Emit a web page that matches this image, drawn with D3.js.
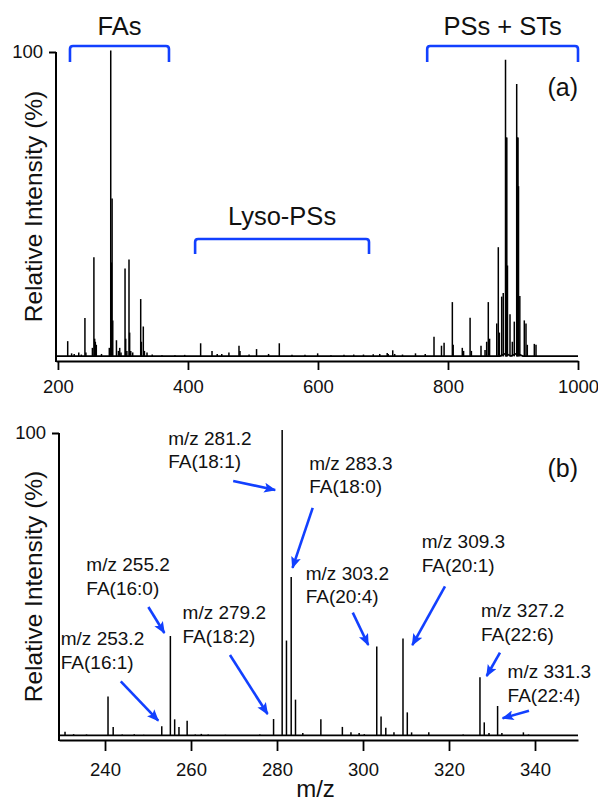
<!DOCTYPE html>
<html>
<head>
<meta charset="utf-8">
<script src="https://cdn.jsdelivr.net/npm/d3@7/dist/d3.min.js"></script>
<style>
  html, body { margin: 0; padding: 0; background: #fff; }
  svg { display: block; }
  text { font-family: "Liberation Sans", Arial, sans-serif; fill: #111; }
</style>
</head>
<body>
<script>
// ---------------- DATA ----------------
// Panel (a): full-range spectrum, [m/z, relative intensity %]
const peaksA = [
  [215, 5.2], [221, 1.2], [225, 1.0], [232, 1.5], [236, 0.8], [241.5, 12.8], [243, 1.5],
  [253, 3], [255.3, 32.7], [256.5, 6], [257.5, 5], [259, 4], [267, 1], [279, 3],
  [281.2, 100.5], [282.2, 31], [283.3, 52], [284.3, 12], [290, 5.5], [293, 2], [295, 3], [297, 1.5],
  [303.2, 29], [304.2, 6], [306, 2], [309.3, 32], [310.3, 8], [312, 2], [315, 1.5],
  [327.3, 19], [328.3, 5], [331.3, 10], [333, 2], [337, 1.5], [345, 0.8], [360, 0.6], [380, 0.6],
  [395, 0.7], [419.5, 4.5], [437, 2], [445, 1], [452, 1], [463, 1.5], [478.5, 3.7], [480, 2],
  [494, 0.8], [505.5, 2.6], [524, 1], [540.5, 4.5], [560, 0.7], [580, 0.7], [599.5, 1.2],
  [620, 0.6], [640, 0.7], [655, 0.8], [670, 0.8], [685, 0.9], [695, 1], [706.5, 1.3], [708, 1],
  [715, 2.2], [718, 1], [730, 0.8], [750, 1.2], [765, 1], [778.5, 6.6], [790, 3.7], [794, 4.7],
  [806.7, 18], [808, 4], [822, 3], [824, 2], [834, 12.9], [836, 2], [850.8, 3.7], [857, 2.3],
  [859.5, 5], [862, 18], [864, 6], [875, 11], [877.4, 36], [879, 8], [882.6, 19.8], [885, 21],
  [888.5, 97.5], [889.5, 72], [890.5, 72], [891.5, 30], [895.4, 14], [899, 5], [902, 11.6],
  [905.7, 89.5], [906.7, 72], [907.7, 72], [908.5, 56], [910.5, 20], [917.4, 12], [920, 11],
  [922, 4], [932.8, 4.3], [935.4, 4]
];
// baseline profile of panel (a) (small humps under the main cluster)
const baselineA = [[197, 0.3], [880, 0.3], [889, 1.2], [897, 0.3], [906, 1.2], [915, 0.3], [1000, 0.3]];

// Panel (b): zoom 230-350
const peaksB = [
  [230.7, 1.4], [232.7, 0.6], [235.7, 0.5], [240.7, 13], [241.9, 3], [244, 0.5], [246.8, 0.6],
  [249, 0.4], [253.2, 3.2], [255.2, 33], [256.2, 5.5], [257.2, 3], [259.1, 5], [261, 0.5],
  [262.4, 0.7], [264, 0.5], [268, 0.4], [276, 0.5], [279.2, 5.6], [281.2, 101], [282.2, 31.5],
  [283.3, 52.5], [284.3, 12], [286, 1], [290.2, 5.5], [295.2, 3], [297.2, 1.2], [299.1, 1],
  [300.3, 0.6], [303.2, 29.5], [304.2, 6.4], [305.3, 2.7], [307.2, 1.2], [309.3, 32.2],
  [310.3, 7.8], [311.3, 1.2], [315.3, 1.2], [323.3, 0.5], [327.2, 19.4], [328.2, 4.5],
  [329.3, 1], [331.3, 9.9], [332.3, 1], [337.3, 1.2], [338.5, 0.5]
];
const baselineB = [[229.3, 0.2], [350, 0.2]];

const ticksA = [200, 400, 600, 800, 1000];
const ticksB = [240, 260, 280, 300, 320, 340];
const yTicks = [100];

// group annotations of panel (a): [label, mz start, mz end]
const groupsA = [["FAs", 218.5, 370.8], ["PSs + STs", 768, 1000], ["Lyso-PSs", 411, 678.5]];

// peak annotations of panel (b): [mz, intensity, line1, line2]
const annB = [
  [281.2, 101, "m/z 281.2", "FA(18:1)"],
  [283.3, 52.5, "m/z 283.3", "FA(18:0)"],
  [255.2, 33, "m/z 255.2", "FA(16:0)"],
  [253.2, 3.2, "m/z 253.2", "FA(16:1)"],
  [279.2, 5.6, "m/z 279.2", "FA(18:2)"],
  [303.2, 29.5, "m/z 303.2", "FA(20:4)"],
  [309.3, 32.2, "m/z 309.3", "FA(20:1)"],
  [327.2, 19.4, "m/z 327.2", "FA(22:6)"],
  [331.3, 9.9, "m/z 331.3", "FA(22:4)"]
];

// ---------------- LAYOUT ----------------
const W = 598, H = 801;
const BLUE = "#1240ff";
const annLayout = [
  // [arrow start dx, dy, arrow end dx, dy, text dx, dy]
  [-49, 51, -7, 60, -114, 15],
  [21.5, -69, 1.3, -9, 18, -107],
  [-22, -29, -6, -3, -84, -65],
  [-41, -45, -3.5, -5.6, -101, -81],
  [-43.6, -64, -6, -5, -91, -100],
  [-24, -34, -8.5, -1.6, -71, -67],
  [42, -52, 9.3, 6.6, 18.7, -90],
  [20, -24.5, 6.7, -1.2, 1, -60],
  [31.4, 4.7, 5, 12.3, 10, -27.7]
];

const svg = d3.select("body").append("svg").attr("width", W).attr("height", H);

const defs = svg.append("defs");
defs.append("marker")
  .attr("id", "ah").attr("markerUnits", "userSpaceOnUse")
  .attr("viewBox", "0 0 12 10").attr("refX", 11).attr("refY", 5)
  .attr("markerWidth", 13).attr("markerHeight", 10).attr("orient", "auto")
  .append("path").attr("d", "M0,0 L12,5 L0,10 L2.5,5 Z").attr("fill", BLUE);

function panel(cfg) {
  const x = d3.scaleLinear().domain(cfg.xDomain).range([cfg.left, cfg.right]);
  const y = d3.scaleLinear().domain([0, 100]).range([cfg.base, cfg.top100]);
  const g = svg.append("g");

  // baseline trace
  g.append("path")
    .datum(cfg.baseline)
    .attr("d", d3.line().x(d => x(d[0])).y(d => y(d[1])))
    .attr("fill", "none").attr("stroke", "#000").attr("stroke-width", 1.6);

  // peaks (sticks)
  g.append("g").selectAll("line").data(cfg.peaks).join("line")
    .attr("x1", d => x(d[0])).attr("x2", d => x(d[0]))
    .attr("y1", y(0.2)).attr("y2", d => y(d[1]))
    .attr("stroke", "#000").attr("stroke-width", cfg.sw);

  // x axis
  const ax = g.append("g").attr("transform", `translate(0,${cfg.axisY})`)
    .call(d3.axisBottom(x).tickValues(cfg.ticks).tickSize(cfg.tickLen).tickSizeOuter(0)
      .tickPadding(cfg.tickPad).tickFormat(d3.format("d")));
  ax.select(".domain").attr("stroke", "#000").attr("stroke-width", 2);
  ax.selectAll(".tick line").attr("stroke", "#000").attr("stroke-width", 1.8);
  ax.selectAll(".tick text").style("font-size", "18.5px").attr("fill", "#111")
    .style("font-family", "Liberation Sans, Arial, sans-serif");

  // y axis
  const ay = g.append("g").attr("transform", `translate(${cfg.left},0)`)
    .call(d3.axisLeft(y).tickValues(yTicks).tickSize(7).tickPadding(6).tickSizeOuter(0));
  ay.select(".domain").remove();
  g.append("line").attr("x1", cfg.left).attr("x2", cfg.left)
    .attr("y1", y(100)).attr("y2", cfg.axisY + 1)
    .attr("stroke", "#000").attr("stroke-width", 2);
  ay.selectAll(".tick line").attr("stroke", "#000").attr("stroke-width", 2);
  ay.selectAll(".tick text").style("font-size", "18.5px").attr("fill", "#111")
    .style("font-family", "Liberation Sans, Arial, sans-serif");

  // y title
  g.append("text")
    .attr("transform", `translate(${cfg.titleX},${(cfg.axisY + y(100)) / 2 + cfg.titleShift}) rotate(-90)`)
    .attr("text-anchor", "middle").style("font-size", "24.5px")
    .text("Relative Intensity (%)");

  // panel label
  g.append("text").attr("x", cfg.right).attr("y", cfg.labelY)
    .attr("text-anchor", "end").style("font-size", "25px").text(cfg.label);

  return { x, y, g };
}

// ---- Panel (a)
const A = panel({
  xDomain: [197, 1000], left: 56, right: 578, base: 357, top100: 52, axisY: 361,
  baseline: baselineA, peaks: peaksA, sw: 1.5, ticks: ticksA, tickLen: 9, tickPad: 10,
  titleX: 42, titleShift: 0, label: "(a)", labelY: 96
});

// brackets
const bracketY = [[46, 62], [46, 62], [239, 254]];
const labelY = [35, 35, 225];
groupsA.forEach((gr, i) => {
  const x1 = A.x(gr[1]), x2 = A.x(gr[2]);
  const [yt, yb] = bracketY[i];
  A.g.append("path")
    .attr("d", `M${x1},${yb} L${x1},${yt + 3} Q${x1},${yt} ${x1 + 3},${yt} L${x2 - 3},${yt} Q${x2},${yt} ${x2},${yt + 3} L${x2},${yb}`)
    .attr("fill", "none").attr("stroke", BLUE).attr("stroke-width", 2.6);
  A.g.append("text").attr("x", (x1 + x2) / 2).attr("y", labelY[i])
    .attr("text-anchor", "middle").style("font-size", "25.5px").text(gr[0]);
});

// ---- Panel (b)
const B = panel({
  xDomain: [229.3, 350], left: 59, right: 578, base: 736, top100: 433, axisY: 740,
  baseline: baselineB, peaks: peaksB, sw: 1.5, ticks: ticksB, tickLen: 11, tickPad: 12,
  titleX: 42, titleShift: 0, label: "(b)", labelY: 477
});

// x title
svg.append("text").attr("x", (59 + 578) / 2 - 3).attr("y", 797)
  .attr("text-anchor", "middle").style("font-size", "24px").text("m/z");

// annotations
annB.forEach((a, i) => {
  const px = B.x(a[0]), py = B.y(a[1]);
  const L = annLayout[i];
  B.g.append("line")
    .attr("x1", px + L[0]).attr("y1", py + L[1])
    .attr("x2", px + L[2]).attr("y2", py + L[3])
    .attr("stroke", BLUE).attr("stroke-width", 2.6).attr("marker-end", "url(#ah)");
  const t = B.g.append("text").attr("x", px + L[4]).attr("y", py + L[5]).style("font-size", "19px");
  t.append("tspan").attr("x", px + L[4]).attr("dy", 0).text(a[2]);
  t.append("tspan").attr("x", px + L[4]).attr("dy", 23.5).text(a[3]);
});
</script>
</body>
</html>
